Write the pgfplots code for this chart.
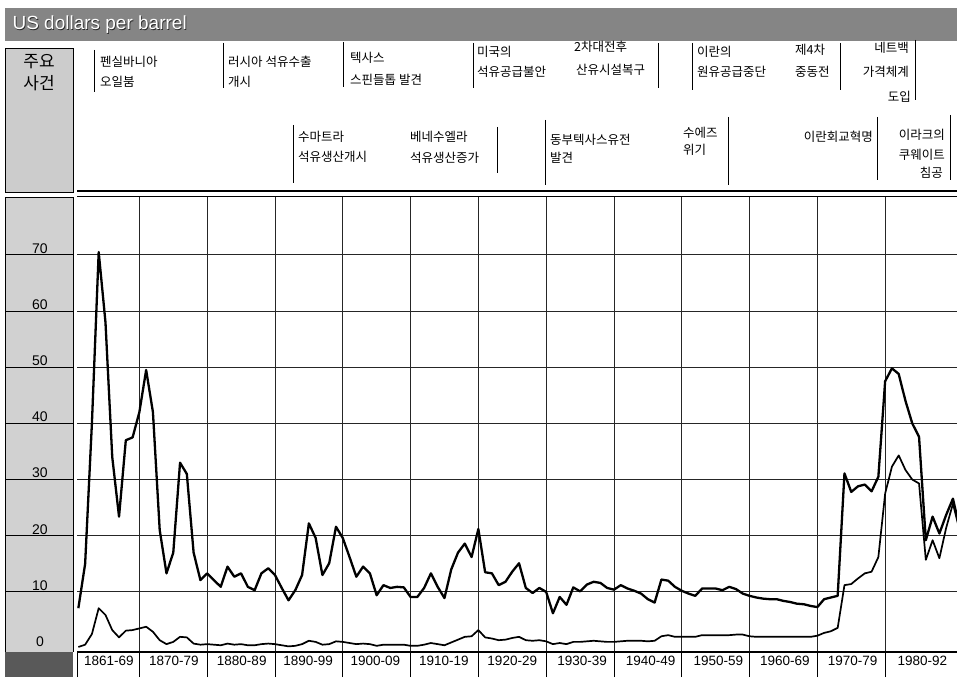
\documentclass[border=0pt]{standalone}
\usepackage{fontspec}
\setmainfont{Liberation Sans}
\newfontfamily\kr{Noto Sans CJK KR}
\usepackage{pgfplots}
\pgfplotsset{compat=1.18}
\usepackage{pgfplotstable}

% price in constant dollars (upper line)
\pgfplotstableread{
year real
1861 7.1
1862 15
1863 40
1864 70.5
1865 58
1866 34
1867 23.4
1868 37
1869 37.5
1870 42
1871 49.5
1872 42
1873 21
1874 13.3
1875 17
1876 33
1877 31
1878 17
1879 12.1
1880 13.3
1881 12.1
1882 10.9
1883 14.5
1884 12.7
1885 13.3
1886 10.9
1887 10.3
1888 13.3
1889 14.2
1890 13.0
1891 10.7
1892 8.5
1893 10.3
1894 13.0
1895 22.2
1896 19.6
1897 13.0
1898 15.1
1899 21.6
1900 19.6
1901 16.2
1902 12.7
1903 14.5
1904 13.3
1905 9.4
1906 11.2
1907 10.7
1908 10.9
1909 10.8
1910 9.1
1911 9.1
1912 10.7
1913 13.3
1914 10.9
1915 8.9
1916 14.0
1917 17.0
1918 18.6
1919 16.2
1920 21.2
1921 13.5
1922 13.3
1923 11.2
1924 11.8
1925 13.6
1926 15.1
1927 10.7
1928 9.8
1929 10.7
1930 10.0
1931 6.2
1932 9.1
1933 7.7
1934 10.8
1935 10.1
1936 11.3
1937 11.8
1938 11.6
1939 10.7
1940 10.4
1941 11.2
1942 10.6
1943 10.2
1944 9.7
1945 8.7
1946 8.1
1947 12.2
1948 12.0
1949 10.9
1950 10.2
1951 9.7
1952 9.3
1953 10.6
1954 10.6
1955 10.6
1956 10.3
1957 10.9
1958 10.5
1959 9.7
1960 9.3
1961 9.0
1962 8.8
1963 8.7
1964 8.7
1965 8.4
1966 8.2
1967 7.9
1968 7.8
1969 7.5
1970 7.3
1971 8.7
1972 9.0
1973 9.3
1974 31.1
1975 27.8
1976 28.8
1977 29.1
1978 27.9
1979 30.5
1980 47.5
1981 49.8
1982 48.8
1983 44.0
1984 40.0
1985 37.6
1986 19.2
1987 23.4
1988 20.4
1989 23.7
1990 26.6
1991 21.3
}\realtab

% price in money of the day (lower line)
\pgfplotstableread{
year nom
1861 0.2
1862 0.6
1863 2.5
1864 7.1
1865 5.9
1866 3.2
1867 1.9
1868 3.1
1869 3.2
1870 3.5
1871 3.8
1872 2.9
1873 1.4
1874 0.7
1875 1.1
1876 2.0
1877 1.9
1878 0.8
1879 0.6
1880 0.7
1881 0.6
1882 0.5
1883 0.8
1884 0.6
1885 0.7
1886 0.5
1887 0.5
1888 0.7
1889 0.8
1890 0.7
1891 0.5
1892 0.3
1893 0.4
1894 0.7
1895 1.3
1896 1.1
1897 0.6
1898 0.7
1899 1.2
1900 1.1
1901 0.9
1902 0.7
1903 0.8
1904 0.7
1905 0.4
1906 0.6
1907 0.6
1908 0.6
1909 0.6
1910 0.4
1911 0.4
1912 0.6
1913 0.9
1914 0.7
1915 0.5
1916 1.0
1917 1.5
1918 2.0
1919 2.1
1920 3.2
1921 1.9
1922 1.7
1923 1.4
1924 1.5
1925 1.8
1926 2.0
1927 1.4
1928 1.3
1929 1.4
1930 1.2
1931 0.7
1932 0.9
1933 0.7
1934 1.1
1935 1.1
1936 1.2
1937 1.3
1938 1.2
1939 1.1
1940 1.1
1941 1.2
1942 1.3
1943 1.3
1944 1.3
1945 1.2
1946 1.3
1947 2.1
1948 2.3
1949 2.0
1950 2.0
1951 2.0
1952 2.0
1953 2.3
1954 2.3
1955 2.3
1956 2.3
1957 2.3
1958 2.4
1959 2.4
1960 2.1
1961 2.0
1962 2.0
1963 2.0
1964 2.0
1965 2.0
1966 2.0
1967 2.0
1968 2.0
1969 2.0
1970 2.2
1971 2.7
1972 3.0
1973 3.6
1974 11.2
1975 11.4
1976 12.4
1977 13.3
1978 13.6
1979 16.2
1980 27.5
1981 32.3
1982 34.3
1983 31.7
1984 30.0
1985 29.3
1986 15.7
1987 19.2
1988 16.0
1989 21.4
1990 25.7
1991 20.9
}\nomtab

\begin{document}
\begin{tikzpicture}[x=1pt,y=1pt]
\useasboundingbox (0,0) rectangle (957,677);

% title band
\fill[black!48] (5,636) rectangle (957,669);
\node[anchor=west, text=black!85, font=\fontsize{19}{19}\selectfont] at (9.8,651.2) {US dollars per barrel};
\node[anchor=west, text=white, font=\fontsize{19}{19}\selectfont] at (9,652) {US dollars per barrel};

% events header
\filldraw[fill=black!20, draw=black, line width=0.8pt] (5,485) rectangle (73,629);
\node[font=\kr\fontsize{17}{17}\selectfont] at (39,615) {주요};
\node[font=\kr\fontsize{17}{17}\selectfont] at (39,594) {사건};

\begin{scope}[line width=1pt]
  \draw (94,627) -- (94,585);
  \draw (223,634) -- (223,589);
  \draw (343,635) -- (343,590);
  \draw (473,634) -- (473,589);
  \draw (658,634) -- (658,589);
  \draw (692,634) -- (692,587);
  \draw (840,634) -- (840,587);
  \draw (915,637) -- (915,577);
  \draw (293,552) -- (293,494);
  \draw (497,550) -- (497,504);
  \draw (545,557) -- (545,492);
  \draw (728,560) -- (728,492);
  \draw (877,560) -- (877,497);
  \draw (950,562) -- (950,497);
\end{scope}

\begin{scope}[every node/.style={font=\kr\fontsize{12.5}{13}\selectfont, inner sep=0pt}]
  \node[anchor=west] at (100,615) {펜실바니아};
  \node[anchor=west] at (100,595) {오일붐};
  \node[anchor=west] at (228,615) {러시아 석유수출};
  \node[anchor=west] at (228,595) {개시};
  \node[anchor=west] at (350,619) {텍사스};
  \node[anchor=west] at (350,597) {스핀들톱 발견};
  \node[anchor=west] at (477,625) {미국의};
  \node[anchor=west] at (477,605) {석유공급불안};
  \node[anchor=west] at (574,630) {2차대전후};
  \node[anchor=west] at (576,607) {산유시설복구};
  \node[anchor=west] at (697,625) {이란의};
  \node[anchor=west] at (697,605) {원유공급중단};
  \node[anchor=west] at (795,627) {제4차};
  \node[anchor=west] at (795,605) {중동전};
  \node[anchor=east] at (909,629) {네트백};
  \node[anchor=east] at (909,605) {가격체계};
  \node[anchor=east] at (911,580) {도입};
  \node[anchor=west] at (298,540) {수마트라};
  \node[anchor=west] at (298,520) {석유생산개시};
  \node[anchor=west] at (410,540) {베네수엘라};
  \node[anchor=west] at (410,519) {석유생산증가};
  \node[anchor=west] at (550,537) {동부텍사스유전};
  \node[anchor=west] at (550,519) {발견};
  \node[anchor=west] at (683,544) {수에즈};
  \node[anchor=west] at (683,527) {위기};
  \node[anchor=east] at (873,540) {이란회교혁명};
  \node[anchor=east] at (945,542) {이라크의};
  \node[anchor=east] at (945,522) {쿠웨이트};
  \node[anchor=east] at (943,504) {침공};
\end{scope}

\draw[line width=1.3pt] (77,486) -- (957,486);

% value column
\fill[black!18] (5,25) rectangle (73,480);
\draw[line width=0.8pt] (5,25) -- (5,480) -- (73,480) -- (73,25);
\foreach \v in {10,20,...,70} {
  \pgfmathsetmacro\yy{25+(\v+0.7)/81*455}
  \draw[line width=0.9pt] (5,\yy) -- (73,\yy);
}
\fill[black!65] (5,0) rectangle (73,25);

\begin{axis}[
  at={(77pt,25pt)}, anchor=south west,
  scale only axis, width=880pt, height=455pt,
  xmin=1860.8, xmax=1990.6, ymin=-0.7, ymax=80.3,
  axis line style={draw=none},
  major tick length=0pt,
  xtick={1865.5,1875.1,1885.1,1894.9,1904.8,1914.9,1925,1935.3,1945.4,1955.4,1965.2,1975.2,1985.5},
  xticklabels={1861-69,1870-79,1880-89,1890-99,1900-09,1910-19,1920-29,1930-39,1940-49,1950-59,1960-69,1970-79,1980-92},
  extra x ticks={1870,1880,...,1980},
  extra x tick labels={},
  extra x tick style={grid=major},
  ytick={10,20,...,70},
  ymajorgrids,
  extra y ticks={0},
  extra y tick style={grid=none},
  grid style={black!85, line width=0.9pt},
  xticklabel style={font=\fontsize{13.5}{13.5}\selectfont, yshift=-1pt},
  yticklabel style={anchor=south, xshift=-37pt, yshift=-2pt, font=\fontsize{14}{14}\selectfont},
  /pgf/number format/assume math mode=true,
]
\addplot[black, line width=2.3pt, line join=round] table[x=year, y=real] {\realtab};
\addplot[black, line width=1.7pt, line join=round] table[x=year, y=nom] {\nomtab};
\end{axis}

% frame lines and decade boxes
\draw[line width=1pt] (77,480) -- (957,480);
\draw[line width=1.2pt] (77,25) -- (957,25);
\draw[line width=0.9pt] (77,0) -- (77,25);
\foreach \d in {1870,1880,...,1980} {
  \pgfmathsetmacro\xx{77+(\d-1860.8)/129.8*880}
  \draw[line width=0.9pt] (\xx,0) -- (\xx,25);
}
\end{tikzpicture}
\end{document}
